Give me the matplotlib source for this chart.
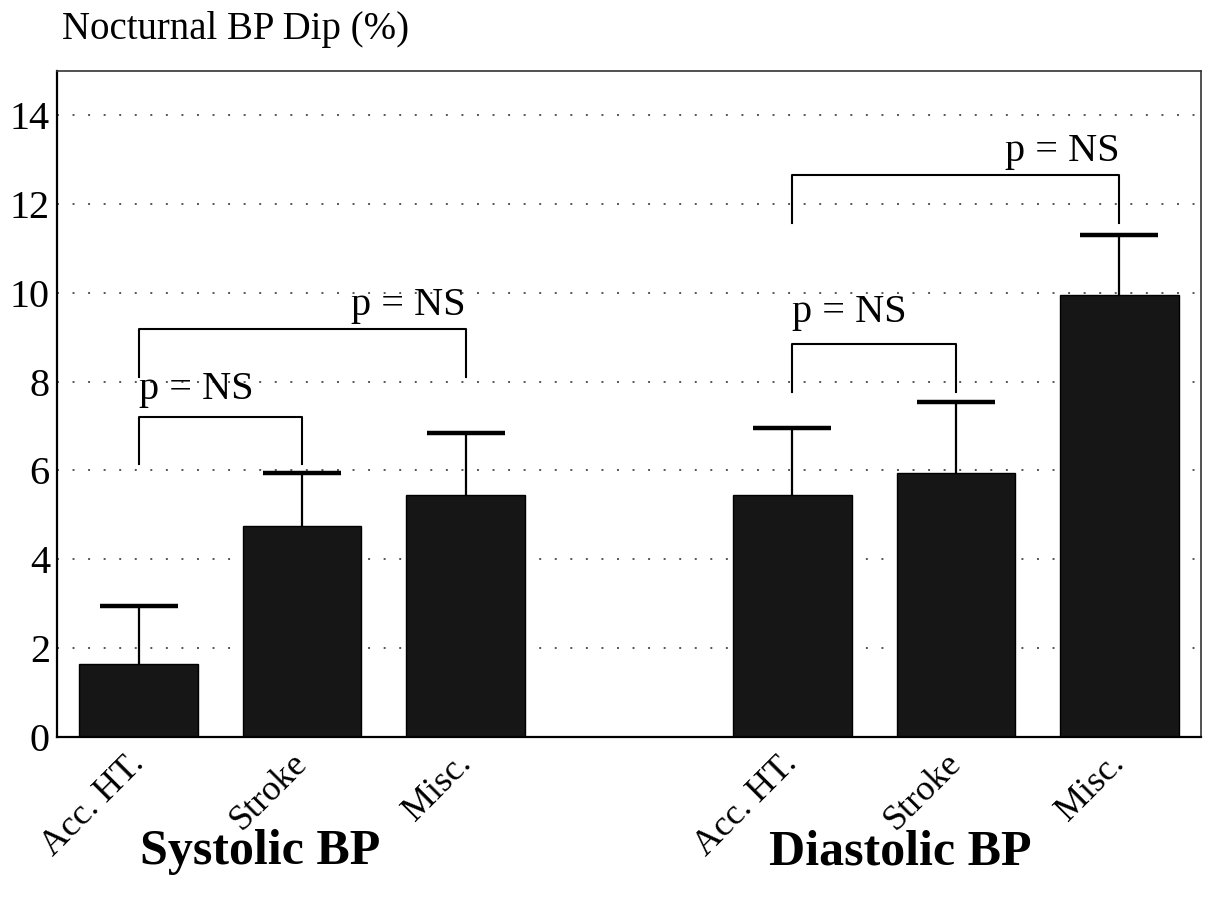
import numpy as np
import matplotlib
matplotlib.use("Agg")
import matplotlib.pyplot as plt
import matplotlib.transforms as mtransforms

plt.rcParams["font.family"] = ["Liberation Serif", "DejaVu Serif"]

# nocturnal dip, mean and upper error (SD) per group
groups = ["Systolic BP", "Diastolic BP"]
categories = ["Acc. HT.", "Stroke", "Misc."]
sys_mean = [1.65, 4.75, 5.45]
sys_err = [1.30, 1.20, 1.40]
dia_mean = [5.45, 5.95, 9.95]
dia_err = [1.50, 1.60, 1.35]

# comparison brackets: (left bar, right bar, bracket top, leg bottom, text baseline, text align)
brackets = [
    (0, 1, 7.2, 6.15, 7.6, "left"),
    (0, 2, 9.18, 8.1, 9.5, "right"),
    (4, 5, 8.84, 7.77, 9.34, "left"),
    (4, 6, 12.65, 11.57, 12.96, "right"),
]
p_label = "p = NS"

x_sys = np.arange(3)
x_dia = np.arange(3) + 4
xs = np.concatenate([x_sys, x_dia])
means = np.array(sys_mean + dia_mean)
errs = np.array(sys_err + dia_err)

fig = plt.figure(figsize=(12.09, 8.97), dpi=100)
ax = fig.add_axes([0.0471, 0.1784, 0.9463, 0.7428])

ax.bar(xs, means, width=0.725, color="#161616", edgecolor="black",
       linewidth=1.0, zorder=2)
eb = ax.errorbar(xs, means, yerr=[np.zeros_like(errs), errs], fmt="none",
                 ecolor="black", elinewidth=1.6, capsize=28, capthick=3.2,
                 zorder=3)
# only the upper whisker gets a cap
eb[1][0].set_visible(False)

for x1, x2, ytop, ybot, ytxt, align in brackets:
    ax.plot([x1, x1, x2, x2], [ybot, ytop, ytop, ybot], color="black",
            linewidth=1.5, zorder=3)
    tx = x1 if align == "left" else x2
    ax.text(tx, ytxt, p_label, ha=align, va="baseline", fontsize=29)

ax.set_xlim(-0.5, 6.5)
ax.set_ylim(0, 15)
ax.set_yticks(np.arange(0, 15, 2))
ax.yaxis.grid(True, linestyle=(0, (1, 7)), linewidth=1.4, color="#555555",
              zorder=0)
ax.set_axisbelow(True)
ax.tick_params(axis="y", length=0, pad=5, labelsize=29)

ax.set_xticks(xs)
ax.set_xticklabels(categories * 2, rotation=45, ha="right", fontsize=26)
ax.tick_params(axis="x", length=0, pad=7)
shift = mtransforms.ScaledTranslation(12 / 100, 0, fig.dpi_scale_trans)
for lbl in ax.get_xticklabels():
    lbl.set_transform(lbl.get_transform() + shift)

for side in ["left", "bottom"]:
    ax.spines[side].set_linewidth(1.6)
for side in ["top", "right"]:
    ax.spines[side].set_linewidth(1.2)
    ax.spines[side].set_color("#333333")

fig.text(0.0513, 0.9666, "Nocturnal BP Dip (%)", ha="left", va="center",
         fontsize=28)
fig.text(0.215, 0.050, groups[0], ha="center", va="center", fontsize=36,
         fontweight="bold")
fig.text(0.745, 0.050, groups[1], ha="center", va="center", fontsize=36,
         fontweight="bold")

fig.savefig("out.png", dpi=100)
